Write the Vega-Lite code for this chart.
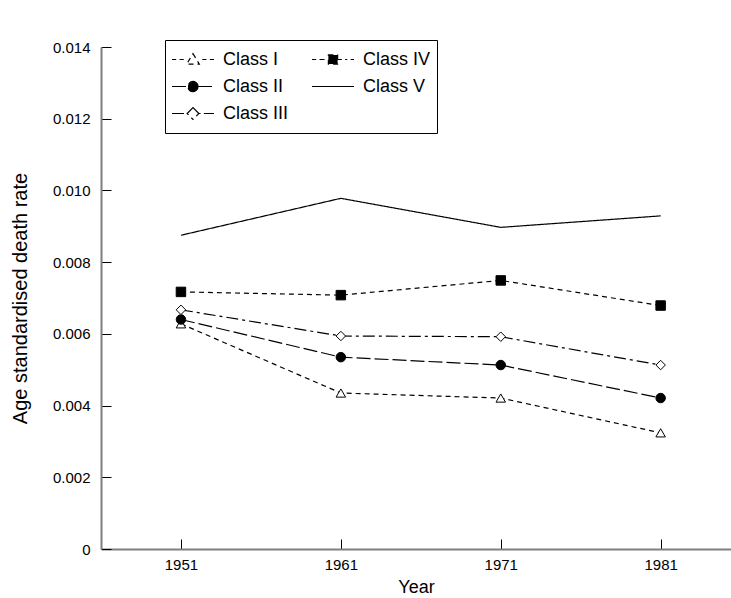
{
  "$schema": "https://vega.github.io/schema/vega-lite/v6.json",
  "width": 630,
  "height": 502,
  "autosize": "none",
  "padding": {"left": 101, "top": 47, "right": 0, "bottom": 49},
  "background": "white",
  "config": {"view": {"stroke": null}, "font": "Liberation Sans"},
  "data": {
    "values": [
      {"cls": "Class I", "year": 1951, "rate": 0.00628},
      {"cls": "Class I", "year": 1961, "rate": 0.00435},
      {"cls": "Class I", "year": 1971, "rate": 0.00421},
      {"cls": "Class I", "year": 1981, "rate": 0.00324},
      {"cls": "Class II", "year": 1951, "rate": 0.0064},
      {"cls": "Class II", "year": 1961, "rate": 0.00535},
      {"cls": "Class II", "year": 1971, "rate": 0.00513},
      {"cls": "Class II", "year": 1981, "rate": 0.00421},
      {"cls": "Class III", "year": 1951, "rate": 0.00667},
      {"cls": "Class III", "year": 1961, "rate": 0.00594},
      {"cls": "Class III", "year": 1971, "rate": 0.00592},
      {"cls": "Class III", "year": 1981, "rate": 0.00513},
      {"cls": "Class IV", "year": 1951, "rate": 0.00717},
      {"cls": "Class IV", "year": 1961, "rate": 0.00708},
      {"cls": "Class IV", "year": 1971, "rate": 0.00749},
      {"cls": "Class IV", "year": 1981, "rate": 0.00679},
      {"cls": "Class V", "year": 1951, "rate": 0.00875},
      {"cls": "Class V", "year": 1961, "rate": 0.00978},
      {"cls": "Class V", "year": 1971, "rate": 0.00897},
      {"cls": "Class V", "year": 1981, "rate": 0.00929}
    ]
  },
  "encoding": {
    "x": {
      "field": "year", "type": "quantitative",
      "scale": {"domain": [1946, 1985.4], "nice": false, "zero": false},
      "axis": {
        "values": [1951, 1961, 1971, 1981], "format": "d", "title": "Year",
        "grid": false, "tickSize": -10, "tickColor": "black", "tickWidth": 1,
        "domainColor": "#7f7f7f", "domainWidth": 2,
        "labelFontSize": 15, "labelColor": "black", "labelPadding": 18,
        "titleFontSize": 18, "titleFontWeight": "normal", "titleColor": "black", "titlePadding": 6
      }
    },
    "y": {
      "field": "rate", "type": "quantitative",
      "scale": {"domain": [0, 0.014], "nice": false},
      "axis": {
        "values": [0, 0.002, 0.004, 0.006, 0.008, 0.01, 0.012, 0.014],
        "labelExpr": "datum.value == 0 ? '0' : format(datum.value, '.3f')",
        "title": "Age standardised death rate",
        "grid": false, "tickSize": -10, "tickColor": "black", "tickWidth": 1,
        "domainColor": "#7f7f7f", "domainWidth": 2,
        "labelFontSize": 15, "labelColor": "black", "labelPadding": 21,
        "titleFontSize": 20, "titleFontWeight": "normal", "titleColor": "black", "titlePadding": 22
      }
    }
  },
  "layer": [
    {
      "mark": {"type": "line", "strokeWidth": 1.2},
      "encoding": {
        "strokeDash": {
          "field": "cls", "type": "nominal",
          "scale": {
            "domain": ["Class I", "Class II", "Class III", "Class IV", "Class V"],
            "range": [[5, 4], [14, 4], [12, 4, 3, 4], [5, 4], [1, 0]]
          },
          "legend": null
        },
        "color": {
          "field": "cls", "type": "nominal",
          "scale": {
            "domain": ["Class I", "Class II", "Class III", "Class IV", "Class V"],
            "range": ["black", "black", "black", "black", "black"]
          },
          "legend": {
            "orient": "none", "legendX": 64, "legendY": -7, "columns": 2,
            "title": null, "strokeColor": "black", "padding": 6,
            "symbolSize": 1764, "symbolStrokeWidth": 1.2, "symbolStrokeColor": "black",
            "labelFontSize": 18, "labelColor": "black", "labelOffset": 8,
            "columnPadding": 22, "rowPadding": 0, "clipHeight": 27,
            "encode": {
              "symbols": {
                "update": {
                  "shape": {"signal": "datum.value === 'Class I' ? 'M-1,0H-0.8M-0.64,0H-0.44M0,-0.28L0.3,0.22L-0.3,0.22ZM0.44,0H0.64M0.8,0H1' : datum.value === 'Class II' ? 'M-1,0H-0.24M0.24,0H1M0.24,0A0.24,0.24,0,1,1,-0.24,0A0.24,0.24,0,1,1,0.24,0Z' : datum.value === 'Class III' ? 'M-1,0H-0.28M0,-0.28L0.28,0L0,0.28L-0.28,0ZM0.28,0H0.36M0.52,0H1' : datum.value === 'Class IV' ? 'M-1,0H-0.8M-0.64,0H-0.22M-0.22,-0.22H0.22V0.22H-0.22ZM0.22,0H0.42M0.58,0H0.68M0.84,0H1' : 'M-1,0H1'"},
                  "fill": {"signal": "datum.value === 'Class II' || datum.value === 'Class IV' ? 'black' : datum.value === 'Class V' ? 'transparent' : 'white'"},
                  "stroke": {"value": "black"},
                  "strokeWidth": {"value": 1.2},
                  "opacity": {"value": 1}
                }
              }
            }
          }
        }
      }
    },
    {
      "transform": [{"filter": "datum.cls !== 'Class V'"}],
      "mark": {"type": "point", "filled": true, "stroke": "black", "strokeWidth": 1, "opacity": 1, "size": 90},
      "encoding": {
        "shape": {
          "field": "cls", "type": "nominal",
          "scale": {"domain": ["Class I", "Class II", "Class III", "Class IV"], "range": ["triangle-up", "circle", "diamond", "square"]},
          "legend": null
        },
        "fill": {
          "field": "cls", "type": "nominal",
          "scale": {"domain": ["Class I", "Class II", "Class III", "Class IV"], "range": ["white", "black", "white", "black"]},
          "legend": null
        }
      }
    }
  ]
}
